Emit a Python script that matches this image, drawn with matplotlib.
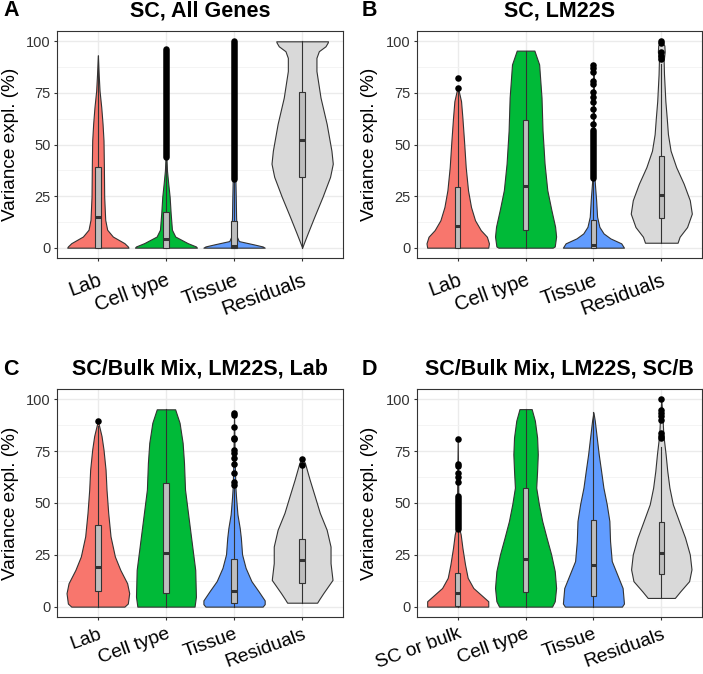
import matplotlib.pyplot as plt
from matplotlib.transforms import ScaledTranslation

plt.rcParams['font.family'] = ['Liberation Sans', 'DejaVu Sans']

# --- categories / titles ---
labels_abc = ["Lab", "Cell type", "Tissue", "Residuals"]
labels_d = ["SC or bulk", "Cell type", "Tissue", "Residuals"]
titles = ["SC, All Genes", "SC, LM22S", "SC/Bulk Mix, LM22S, Lab", "SC/Bulk Mix, LM22S, SC/B"]
letters = ["A", "B", "C", "D"]
fill_colors = ["#F8766D", "#00BA38", "#619CFF", "#D9D9D9"]

# --- violin outlines: y levels and half-widths (category units) ---
# panel A
a_lab_y = [0, 0.6, 2.2, 5.4, 8.7, 13.5, 24.7, 40.7, 51.9, 60, 68, 76, 84, 93.3]
a_lab_w = [0.45, 0.44, 0.39, 0.22, 0.137, 0.108, 0.093, 0.088, 0.083, 0.069, 0.05, 0.025, 0.012, 0]
a_cell_y = [0, 0.6, 2.2, 5.4, 8.7, 16.7, 24.7, 31, 37.5, 44, 60, 96.5]
a_cell_w = [0.455, 0.44, 0.32, 0.137, 0.088, 0.069, 0.054, 0.034, 0.015, 0.006, 0.004, 0]
a_tis_y = [0, 0.6, 1.6, 3.2, 5.4, 15, 24.7, 32.7, 60, 100]
a_tis_w = [0.45, 0.42, 0.29, 0.07, 0.04, 0.03, 0.025, 0.02, 0.01, 0.005]
a_res_y = [0, 2.2, 7.1, 15.1, 24.7, 34.3, 40.7, 47, 60, 72.7, 85.6, 92, 95.2, 97.6, 99.4, 100]
a_res_w = [0, 0.025, 0.083, 0.18, 0.30, 0.41, 0.45, 0.43, 0.36, 0.27, 0.21, 0.21, 0.245, 0.343, 0.375, 0.38]
# panel B
b_lab_y = [0, 2.1, 5.3, 8.5, 13.3, 19.7, 27.8, 39, 51.8, 63, 71, 76.7, 78]
b_lab_w = [0.45, 0.46, 0.43, 0.34, 0.255, 0.196, 0.152, 0.118, 0.093, 0.069, 0.049, 0.01, 0]
b_cell_y = [0, 0.6, 5.4, 10.2, 18.3, 27.9, 40.7, 56.7, 72.7, 88.8, 95.5]
b_cell_w = [0.40, 0.43, 0.45, 0.435, 0.38, 0.32, 0.28, 0.25, 0.235, 0.20, 0.13]
b_tis_y = [0, 2.1, 4.5, 6.9, 10.1, 15, 23, 29.4, 34, 50, 88.5]
b_tis_w = [0.45, 0.41, 0.25, 0.15, 0.088, 0.054, 0.04, 0.025, 0.015, 0.008, 0]
b_res_y = [2.4, 5.3, 10, 16.5, 23, 31, 39, 47, 55, 63, 71, 77.5, 84, 90.4, 95, 98, 100]
b_res_w = [0.24, 0.27, 0.38, 0.45, 0.42, 0.33, 0.22, 0.137, 0.098, 0.08, 0.06, 0.05, 0.04, 0.035, 0.05, 0.045, 0]
# panel C
c_lab_y = [0, 1.5, 6.5, 11.3, 17.7, 24.2, 33.9, 45.2, 56.5, 66.1, 75.8, 82.3, 87, 89.5]
c_lab_w = [0.39, 0.44, 0.46, 0.43, 0.33, 0.25, 0.186, 0.152, 0.127, 0.113, 0.083, 0.054, 0.02, 0]
c_cell_y = [0, 4.8, 17.7, 30.6, 43.5, 56.5, 69.4, 79, 88.7, 95.2]
c_cell_w = [0.42, 0.44, 0.43, 0.38, 0.33, 0.28, 0.265, 0.245, 0.2, 0.135]
c_tis_y = [0, 1.2, 3, 7.4, 12.3, 18.7, 25.2, 33.2, 38, 44.5, 52.6, 57.5, 70, 93.7]
c_tis_w = [0.42, 0.45, 0.45, 0.36, 0.255, 0.17, 0.118, 0.1, 0.083, 0.05, 0.03, 0.02, 0.01, 0]
c_res_y = [1.9, 3.5, 6.5, 12.9, 21, 29, 37.1, 45.2, 53.2, 61.3, 69.4, 71.3]
c_res_w = [0.22, 0.25, 0.31, 0.446, 0.417, 0.417, 0.36, 0.26, 0.186, 0.11, 0.04, 0]
# panel D
d_scb_y = [0, 2.6, 5.8, 9, 13.9, 20.3, 28.4, 34.8, 38, 50, 81]
d_scb_w = [0.45, 0.45, 0.34, 0.23, 0.147, 0.108, 0.069, 0.044, 0.02, 0.01, 0]
d_cell_y = [0, 2.6, 9, 17.1, 25.2, 33.2, 41.3, 49.4, 57.4, 65.5, 73.5, 81.6, 89.7, 95.3]
d_cell_w = [0.39, 0.43, 0.45, 0.43, 0.377, 0.31, 0.245, 0.196, 0.157, 0.17, 0.18, 0.17, 0.137, 0.09]
d_tis_y = [0, 1.5, 9, 15.5, 22, 31.6, 41.3, 49.4, 57.4, 65.5, 73.5, 81.6, 89.7, 93.7]
d_tis_w = [0.42, 0.45, 0.43, 0.35, 0.27, 0.245, 0.235, 0.196, 0.147, 0.113, 0.078, 0.049, 0.02, 0]
d_res_y = [4.2, 7.4, 12.3, 18, 25.2, 33.3, 41.3, 49.4, 57.4, 65.5, 73.5, 83, 90, 100]
d_res_w = [0.2, 0.28, 0.41, 0.445, 0.42, 0.35, 0.26, 0.17, 0.12, 0.088, 0.064, 0.03, 0.02, 0]

# --- box plot statistics (q1, median, q3, whisker ends) ---
a_q1 = [0, 0, 0, 34.3]
a_med = [15, 4.2, 1, 52.2]
a_q3 = [39.1, 17.5, 13.1, 75.5]
a_lo = [0, 0, 0, 0]
a_hi = [93, 44, 33.5, 100]

b_q1 = [0, 8.7, 0, 14.5]
b_med = [10.5, 30, 1.5, 25.4]
b_q3 = [29.4, 61.9, 13.6, 44.6]
b_lo = [0, 0, 0, 2.4]
b_hi = [76, 95.5, 33, 89]

c_q1 = [7.6, 6.5, 1.6, 11.3]
c_med = [18.9, 25.8, 7.6, 22.6]
c_q3 = [39.2, 59.7, 22.9, 32.6]
c_lo = [0, 0, 0, 1.9]
c_hi = [87, 95.2, 57, 67]

d_q1 = [0.5, 7.1, 5, 15.8]
d_med = [6.6, 23.1, 20.3, 25.7]
d_q3 = [16.1, 57, 41.6, 41]
d_lo = [0, 0, 0, 4.2]
d_hi = [37, 95.3, 93.7, 77]

# --- outliers: single points, and dense runs (lo, hi) that merge into a solid bar ---
a_out = [[], [], [], []]
a_runs = [None, (44, 96.5), (33.5, 100), None]
b_out = [[77.5, 82], [], [60, 64, 67, 70.5, 73, 75.5, 79.5, 81, 85, 87, 88.5], [91.5, 93, 95, 99, 100]]
b_runs = [None, None, (34, 57), None]
c_out = [[89.5], [], [58.6, 60.2, 64.5, 69, 71.6, 74, 75.8, 80.7, 81.3, 86.6, 92.6, 93.5], [68.5, 71.3]]
c_runs = [None, None, None, None]
d_out = [[60.2, 62.6, 64.5, 67.7, 68.9, 80.8], [], [], [81.5, 82.5, 84, 90, 92, 93.5, 95, 100]]
d_runs = [(37.5, 53.5), None, None, None]

EDGE = '#333333'


def draw_panel(ax, labels, violins, q1, med, q3, lo, hi, outs, runs, xpad, xsize):
    for i, (vy, vw) in enumerate(violins):
        x = i + 1
        ax.fill_betweenx(vy, [x - w for w in vw], [x + w for w in vw],
                         facecolor=fill_colors[i], edgecolor=EDGE, lw=0.8, zorder=2)
        ax.plot([x, x], [lo[i], hi[i]], color=EDGE, lw=0.8, zorder=3)
        ax.add_patch(plt.Rectangle((x - 0.04, q1[i]), 0.08, q3[i] - q1[i],
                                   facecolor='#BEBEBE', edgecolor=EDGE, lw=0.8, zorder=4))
        ax.plot([x - 0.04, x + 0.04], [med[i], med[i]], color=EDGE, lw=2.2,
                solid_capstyle='butt', zorder=5)
        if outs[i]:
            ax.plot([x] * len(outs[i]), outs[i], 'o', color='black', ms=4.7, mew=0, zorder=6)
        if runs[i]:
            ax.plot([x, x], list(runs[i]), color='black', lw=4.7,
                    solid_capstyle='round', zorder=6)

    ax.set_xlim(0.4, 4.6)
    ax.set_ylim(-5, 105)
    ax.set_yticks([0, 25, 50, 75, 100])
    ax.set_yticks([12.5, 37.5, 62.5, 87.5], minor=True)
    ax.set_xticks([1, 2, 3, 4])
    ax.set_xticklabels(labels, rotation=20, ha='right', va='top',
                       rotation_mode='anchor', fontsize=xsize, color='black')
    for t in ax.get_xticklabels():
        t.set_transform(t.get_transform() + ScaledTranslation(4 / 100, 0, ax.figure.dpi_scale_trans))
    ax.tick_params(axis='y', which='major', labelsize=10.5, labelcolor='#333333',
                   length=2.5, width=0.8, color=EDGE, pad=2)
    ax.tick_params(axis='y', which='minor', length=0)
    ax.tick_params(axis='x', length=2.5, width=0.8, color=EDGE, pad=xpad)
    ax.grid(True, which='major', color='#EBEBEB', lw=1.0, zorder=0)
    ax.grid(True, which='minor', axis='y', color='#F2F2F2', lw=0.6, zorder=0)
    ax.set_axisbelow(True)
    for s in ax.spines.values():
        s.set_color(EDGE)
        s.set_linewidth(0.8)


fig = plt.figure(figsize=(7.03, 6.74), dpi=100)
W, H = 703, 674
boxes = [(57, 31, 286, 227), (417, 31, 285, 227), (57, 389, 286, 228), (417, 389, 285, 228)]
panels = [
    (labels_abc, [(a_lab_y, a_lab_w), (a_cell_y, a_cell_w), (a_tis_y, a_tis_w), (a_res_y, a_res_w)],
     a_q1, a_med, a_q3, a_lo, a_hi, a_out, a_runs),
    (labels_abc, [(b_lab_y, b_lab_w), (b_cell_y, b_cell_w), (b_tis_y, b_tis_w), (b_res_y, b_res_w)],
     b_q1, b_med, b_q3, b_lo, b_hi, b_out, b_runs),
    (labels_abc, [(c_lab_y, c_lab_w), (c_cell_y, c_cell_w), (c_tis_y, c_tis_w), (c_res_y, c_res_w)],
     c_q1, c_med, c_q3, c_lo, c_hi, c_out, c_runs),
    (labels_d, [(d_scb_y, d_scb_w), (d_cell_y, d_cell_w), (d_tis_y, d_tis_w), (d_res_y, d_res_w)],
     d_q1, d_med, d_q3, d_lo, d_hi, d_out, d_runs),
]

for k, ((l, t, w, h), p) in enumerate(zip(boxes, panels)):
    ax = fig.add_axes([l / W, 1 - (t + h) / H, w / W, h / H])
    top_row = t < 300
    draw_panel(ax, *p, xpad=6.8 if top_row else 3.6, xsize=14.4 if top_row else 13.9)
    title_y = 11 if top_row else 369.5
    fig.text((l + w / 2) / W, 1 - title_y / H, titles[k], ha='center', va='center',
             fontsize=15.5, fontweight='bold')
    fig.text((3 if l < 300 else 362) / W, 1 - title_y / H, letters[k], ha='left', va='center',
             fontsize=15.5, fontweight='bold')
    fig.text((10.5 if l < 300 else 369) / W, 1 - (t + h / 2) / H, "Variance expl. (%)",
             rotation=90, ha='center', va='center', fontsize=13.7)

fig.savefig("out.png", dpi=100)
